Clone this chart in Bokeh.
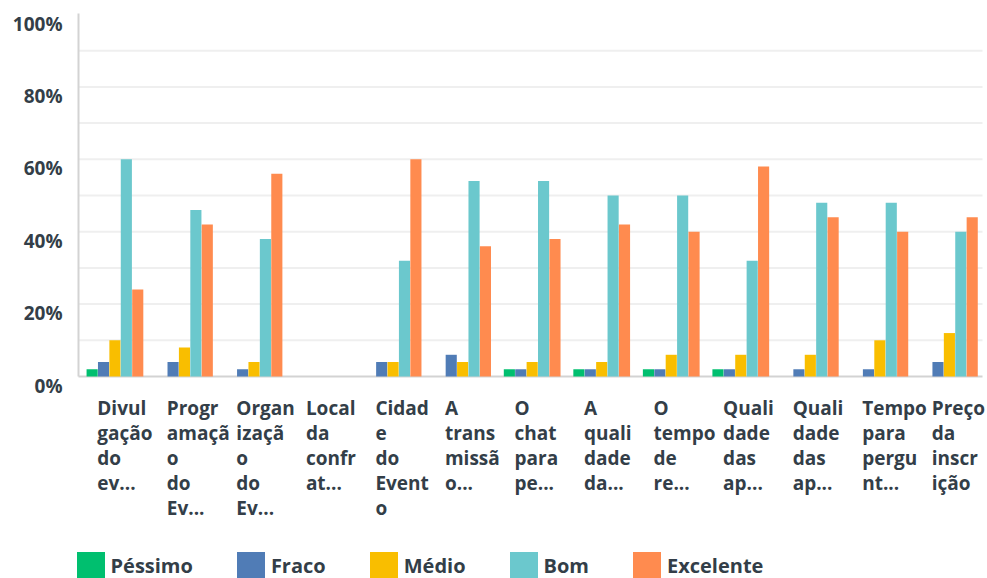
from bokeh.plotting import figure
from bokeh.models import Range1d, ColumnDataSource, Legend, LegendItem
from bokeh.transform import dodge
from bokeh.embed import file_html
from bokeh.resources import INLINE

categories = [
    "Divulgação do ev...", "Programação do Ev...", "Organização do Ev...", "Local da confrat...",
    "Cidade do Evento", "A transmissão...", "O chat para pe...", "A qualidade da...",
    "O tempo de re...", "Qualidade das ap...", "Qualidade das ap... (2)", "Tempo para perguntas...",
    "Preço da inscrição",
]
labels = [
    "Divul\ngação\ndo\nev...",
    "Progr\namaçã\no\ndo\nEv...",
    "Organ\nizaçã\no\ndo\nEv...",
    "Local\nda\nconfr\nat...",
    "Cidad\ne\ndo\nEvent\no",
    "A\ntrans\nmissã\no...",
    "O\nchat\npara\npe...",
    "A\nquali\ndade\nda...",
    "O\ntempo\nde\nre...",
    "Quali\ndade\ndas\nap...",
    "Quali\ndade\ndas\nap...",
    "Tempo\npara\npergu\nnt...",
    "Preço\nda\ninscr\nição",
]
series = ["Péssimo", "Fraco", "Médio", "Bom", "Excelente"]
colors = ["#00bf6f", "#507cb6", "#f9be00", "#6bc8cd", "#ff8b4f"]
pessimo = [2, 0, 0, 0, 0, 0, 2, 2, 2, 2, 0, 0, 0]
fraco = [4, 4, 2, 0, 4, 6, 2, 2, 2, 2, 2, 2, 4]
medio = [10, 8, 4, 0, 4, 4, 4, 4, 6, 6, 6, 10, 12]
bom = [60, 46, 38, 0, 32, 54, 54, 50, 50, 32, 48, 48, 40]
excelente = [24, 42, 56, 0, 60, 36, 38, 42, 40, 58, 44, 40, 44]
y_ticks = [0, 20, 40, 60, 80, 100]
y_tick_labels = ["0%", "20%", "40%", "60%", "80%", "100%"]
grid_ticks = [10, 20, 30, 40, 50, 60, 70, 80, 90]

FONT = "Open Sans"
TXT = "#333e48"
W, H = 987, 578
# plot area (px): left 78, right 982, top 14, bottom 376
n = len(categories)
pitch = (982 - 78) / n
ppu = (376 - 14) / 100.0

xc = [i + 0.5 for i in range(n)]
src = ColumnDataSource(dict(xc=xc, cat=categories, label=labels, pessimo=pessimo, fraco=fraco,
                            medio=medio, bom=bom, excelente=excelente))

p = figure(x_range=Range1d(-78 / pitch, (W - 78) / pitch),
           y_range=Range1d(-(H - 376) / ppu, 100 + 14 / ppu),
           width=W, height=H, output_backend="svg", toolbar_location=None,
           min_border=0, x_axis_location=None, y_axis_location=None)
p.outline_line_color = None
p.grid.visible = False

# gridlines and axis lines
p.segment(x0=0, x1=n, y0=grid_ticks, y1=grid_ticks, line_color="#efefef", line_width=2)
p.segment(x0=0, x1=n, y0=0, y1=0, line_color="#d3d3d3", line_width=2)
p.segment(x0=0, x1=0, y0=0, y1=100.3, line_color="#d3d3d3", line_width=2)

fields = ["pessimo", "fraco", "medio", "bom", "excelente"]
bw = 0.164
renderers = []
for i, (f, c) in enumerate(zip(fields, colors)):
    r = p.vbar(x=dodge("xc", (i - 2) * bw + 0.024), top=f, width=bw - 0.004,
               source=src, fill_color=c, line_color=None)
    renderers.append(r)

p.text(x="xc", y=-5.0, text="label", source=src, x_offset=-16,
       text_align="left", text_baseline="top", text_font={"value": FONT}, text_font_style="bold",
       text_font_size="19px", text_color=TXT, text_line_height=0.97)

p.text(x=0, y=y_ticks, text=y_tick_labels, x_offset=-16, y_offset=9,
       text_align="right", text_baseline="middle", text_font={"value": FONT}, text_font_style="bold",
       text_font_size="19px", text_color=TXT)

legend = Legend(items=[LegendItem(label=s, renderers=[r]) for s, r in zip(series, renderers)],
                orientation="horizontal", location=(72.5, -4.5),
                glyph_width=35, glyph_height=35, label_standoff=3, spacing=40,
                padding=0, margin=0, border_line_color=None, background_fill_alpha=0,
                label_text_font=FONT, label_text_font_style="bold", label_text_font_size="20px",
                label_text_color=TXT)
p.add_layout(legend, "center")

open("out.html", "w").write(file_html(p, INLINE))
